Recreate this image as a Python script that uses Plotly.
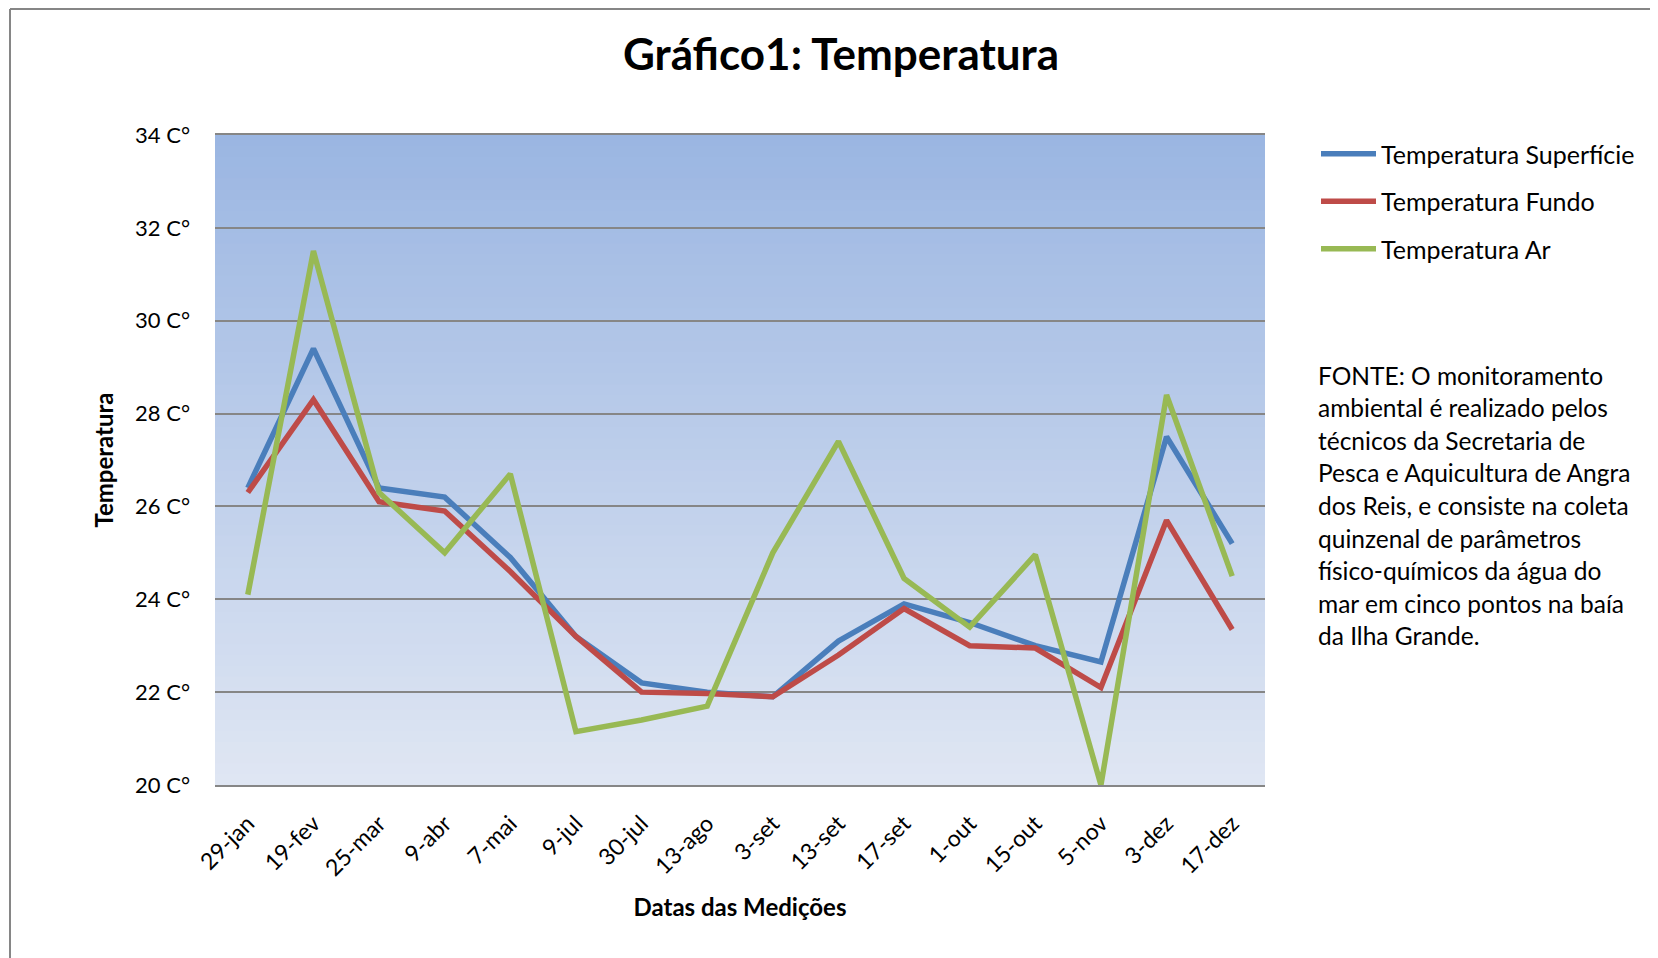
import plotly.graph_objects as go

datas = ["29-jan", "19-fev", "25-mar", "9-abr", "7-mai", "9-jul", "30-jul", "13-ago",
         "3-set", "13-set", "17-set", "1-out", "15-out", "5-nov", "3-dez", "17-dez"]
temp_superficie = [26.4, 29.4, 26.4, 26.2, 24.9, 23.2, 22.2, 22.0, 21.9, 23.1, 23.9, 23.5, 23.0, 22.65, 27.5, 25.2]
temp_fundo = [26.3, 28.3, 26.1, 25.9, 24.6, 23.2, 22.0, 21.97, 21.9, 22.8, 23.8, 23.0, 22.95, 22.1, 25.7, 23.35]
temp_ar = [24.1, 31.5, 26.3, 25.0, 26.7, 21.15, 21.4, 21.7, 25.0, 27.4, 24.45, 23.4, 24.96, 20.0, 28.4, 24.5]
y_ticks = [20, 22, 24, 26, 28, 30, 32, 34]
y_ticktext = ["20 C°", "22 C°", "24 C°", "26 C°", "28 C°", "30 C°", "32 C°", "34 C°"]
fonte_linhas = [
    "FONTE: O monitoramento",
    "ambiental é realizado pelos",
    "técnicos da Secretaria de",
    "Pesca e Aquicultura de Angra",
    "dos Reis, e consiste na coleta",
    "quinzenal de parâmetros",
    "físico-químicos da água do",
    "mar em cinco pontos na baía",
    "da Ilha Grande.",
]

FONT = "Lato, Open Sans, sans-serif"

fig = go.Figure()
series = [
    ("Temperatura Superfície", temp_superficie, "#4A7EBB"),
    ("Temperatura Fundo", temp_fundo, "#BE4B48"),
    ("Temperatura Ar", temp_ar, "#98B954"),
]
for i, (name, vals, color) in enumerate(series):
    fig.add_trace(go.Scatter(x=datas, y=vals, mode="lines", name=name,
                             legendgroup=f"g{i}",
                             line=dict(color=color, width=5.5)))

# page offset (body margin) = 8px
OFF = 8
W, H = 1650, 950
L, T = 215 - OFF, 135 - OFF
pw, ph = 1050, 650
R = W - L - pw
B = H - T - ph


def px(x):  # screenshot x -> paper
    return (x - OFF - L) / pw


def py(y):  # screenshot y -> paper
    return (T + ph - (y - OFF)) / ph


# background vertical gradient
top = (155, 182, 226)
bot = (223, 230, 243)
N = 60
shapes = []
for k in range(N):
    t = k / (N - 1)
    c = tuple(round(bot[j] + (top[j] - bot[j]) * t) for j in range(3))
    shapes.append(dict(type="rect", xref="x domain", yref="y domain",
                       x0=0, x1=1, y0=k / N, y1=(k + 1) / N + 0.002,
                       fillcolor=f"rgb{c}", line=dict(width=0), layer="below"))
# chart border (top & left)
shapes.append(dict(type="line", xref="paper", yref="paper", x0=px(10), x1=px(W + 20),
                   y0=py(OFF + 1), y1=py(OFF + 1), line=dict(color="#868686", width=2)))
shapes.append(dict(type="line", xref="paper", yref="paper", x0=px(10), x1=px(10),
                   y0=py(OFF + 1), y1=py(H + 30), line=dict(color="#868686", width=2)))

annotations = []
for i, line in enumerate(fonte_linhas):
    annotations.append(dict(text=line, xref="paper", yref="paper", x=px(1316),
                            y=py(375 + i * 32.6), xanchor="left", yanchor="middle",
                            showarrow=False, font=dict(family=FONT, size=24.5, color="#000")))

fig.update_layout(
    width=W, height=H,
    margin=dict(l=L, r=R, t=T, b=B),
    paper_bgcolor="white", plot_bgcolor="rgba(0,0,0,0)",
    title=dict(text="<b>Gráfico1: Temperatura</b>", xref="container", x=(841 - OFF) / W,
               xanchor="center", y=1 - (55 - OFF) / H, yanchor="middle",
               font=dict(family=FONT, size=44, color="#000")),
    font=dict(family=FONT, size=22, color="#000"),
    shapes=shapes,
    annotations=annotations,
    legend=dict(x=px(1316), y=py(131), xanchor="left", yanchor="top",
                font=dict(family=FONT, size=25, color="#000"),
                tracegroupgap=12, itemwidth=55, bgcolor="rgba(0,0,0,0)"),
    xaxis=dict(
        title=dict(text="<b>Datas das Medições</b>", font=dict(family=FONT, size=24), standoff=19),
        tickangle=-45, showgrid=False, ticks="",
        showline=True, mirror=True, linecolor="#868686", linewidth=2,
        ticklabelstandoff=14,
        tickfont=dict(family=FONT, size=23), range=[-0.5, len(datas) - 0.5],
    ),
    yaxis=dict(
        title=dict(text="<b>Temperatura</b>", font=dict(family=FONT, size=24), standoff=14),
        range=[20, 34], tickvals=y_ticks, ticktext=y_ticktext,
        showgrid=True, gridcolor="#868686", gridwidth=2, zeroline=False,
        showline=False,
        ticks="", ticklabelstandoff=24, tickfont=dict(family=FONT, size=22),
    ),
)

fig.write_html("out.html")
